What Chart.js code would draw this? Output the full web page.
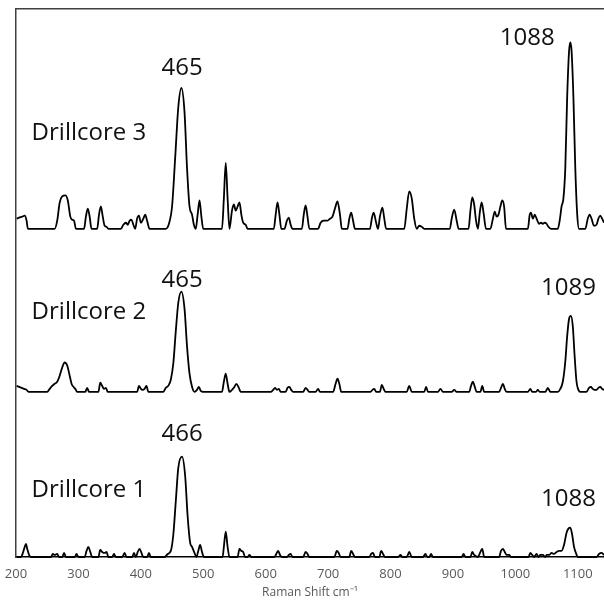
<!DOCTYPE html>
<html>
<head>
<meta charset="utf-8">
<script src="https://cdn.jsdelivr.net/npm/chart.js@4.4.1/dist/chart.umd.min.js"></script>
<style>
  html, body { margin: 0; padding: 0; background: #fff; overflow: hidden; }
</style>
</head>
<body>
<canvas id="chart" width="604" height="600"></canvas>
<script>
// Raman shift (cm-1) vs intensity above each trace's own baseline
const core3Points = [
  [201, 10], [205, 11], [210, 12], [214, 13], [217, 8], [219, 0], [262, 0], [266, 8], [270, 26], [274, 32],
  [279, 33], [283, 28], [287, 12], [290, 9], [293, 8], [296, 0], [309, 0], [312, 12], [315, 20], [318, 12],
  [321, 0], [330, 0], [333, 14], [336, 22], [339, 12], [342, 3], [345, 2], [348, 0], [368, 0], [372, 4],
  [376, 6], [379, 4], [382, 8], [385, 9], [388, 4], [391, 0], [394, 10], [397, 13], [400, 6], [404, 10],
  [407, 14], [410, 8], [414, 0], [440, 0], [445, 5], [450, 22], [455, 70], [460, 120], [465, 139], [470, 115],
  [474, 60], [478, 22], [482, 14], [485, 4], [488, 0], [491, 14], [494, 28], [497, 12], [500, 0], [530, 0],
  [533, 30], [536, 65], [539, 30], [542, 0], [546, 18], [549, 24], [552, 18], [555, 22], [558, 26], [561, 14],
  [564, 6], [568, 4], [571, 0], [613, 0], [616, 14], [619, 26], [622, 14], [625, 0], [630, 0], [634, 8],
  [637, 11], [640, 4], [643, 0], [658, 0], [661, 14], [664, 23], [667, 12], [670, 0], [684, 0], [688, 6],
  [693, 8], [699, 8], [703, 10], [707, 12], [711, 20], [715, 27], [719, 14], [722, 0], [731, 0], [734, 10],
  [737, 16], [740, 8], [743, 0], [767, 0], [770, 10], [773, 16], [777, 6], [780, 0], [783, 12], [787, 21],
  [790, 10], [793, 0], [822, 0], [826, 20], [830, 37], [834, 30], [838, 10], [842, 0], [846, 3], [850, 2],
  [854, 0], [895, 0], [898, 10], [902, 19], [906, 8], [909, 0], [925, 0], [928, 18], [931, 31], [934, 24],
  [937, 8], [940, 0], [943, 16], [946, 26], [949, 16], [953, 0], [960, 0], [964, 10], [967, 17], [970, 12],
  [973, 14], [976, 22], [979, 28], [982, 22], [985, 0], [1020, 0], [1023, 14], [1025, 16], [1028, 10], [1031, 14],
  [1034, 10], [1038, 5], [1041, 6], [1044, 5], [1047, 6], [1050, 5], [1053, 2], [1057, 0], [1068, 0], [1071, 8],
  [1074, 22], [1077, 30], [1080, 60], [1083, 130], [1086, 175], [1088, 184], [1090, 176], [1093, 130], [1096, 60], [1099, 15],
  [1102, 0], [1112, 0], [1116, 10], [1119, 14], [1122, 10], [1126, 3], [1130, 4], [1133, 10], [1136, 13], [1139, 10],
  [1142, 6]
];

const core2Points = [
  [201, 6], [205, 5], [209, 4], [213, 3], [217, 2], [220, 0], [250, 0], [254, 3], [258, 6], [262, 8],
  [266, 10], [270, 16], [274, 24], [278, 29], [282, 26], [286, 16], [289, 8], [292, 5], [295, 3], [298, 0],
  [311, 0], [314, 4], [317, 0], [332, 0], [335, 9], [338, 6], [341, 3], [344, 4], [347, 0], [394, 0],
  [397, 6], [400, 3], [403, 2], [406, 3], [409, 6], [412, 0], [436, 0], [440, 4], [444, 6], [448, 12],
  [452, 28], [456, 60], [460, 88], [465, 99], [470, 82], [474, 45], [478, 18], [482, 5], [486, 0], [490, 2],
  [493, 5], [496, 1], [500, 0], [530, 0], [533, 10], [536, 18], [539, 8], [542, 0], [546, 2], [549, 4],
  [553, 8], [557, 4], [560, 0], [608, 0], [612, 2], [615, 4], [618, 2], [621, 3], [624, 0], [632, 0],
  [635, 4], [638, 5], [641, 2], [644, 0], [660, 0], [664, 4], [667, 2], [670, 0], [680, 0], [684, 3],
  [687, 0], [708, 0], [712, 8], [715, 13], [718, 8], [721, 0], [768, 0], [771, 2], [774, 3], [777, 0],
  [783, 0], [786, 7], [789, 3], [792, 0], [826, 0], [830, 6], [834, 0], [854, 0], [857, 5], [860, 0],
  [876, 0], [880, 3], [884, 0], [898, 0], [902, 2], [906, 0], [926, 0], [929, 6], [932, 10], [935, 5],
  [938, 0], [944, 0], [947, 6], [950, 0], [974, 0], [977, 4], [980, 8], [983, 3], [986, 0], [1020, 0],
  [1024, 3], [1027, 0], [1033, 0], [1036, 2], [1039, 0], [1048, 0], [1052, 4], [1056, 0], [1068, 0], [1072, 3],
  [1076, 10], [1080, 30], [1083, 55], [1086, 72], [1089, 75], [1092, 65], [1095, 35], [1098, 10], [1101, 2], [1104, 0],
  [1114, 0], [1118, 4], [1121, 5], [1124, 3], [1127, 2], [1130, 2], [1133, 4], [1136, 5], [1139, 3], [1142, 2]
];

const core1Points = [
  [201, 0], [208, 0], [211, 4], [214, 10], [216, 13], [218, 8], [221, 2], [224, 0], [256, 0], [259, 3],
  [262, 2], [266, 3], [269, 0], [274, 0], [277, 4], [280, 0], [294, 0], [297, 3], [300, 0], [310, 0],
  [313, 6], [316, 10], [319, 5], [322, 0], [332, 0], [335, 7], [338, 5], [342, 4], [345, 5], [348, 0],
  [354, 0], [357, 3], [360, 0], [370, 0], [374, 4], [377, 0], [386, 0], [389, 4], [392, 0], [395, 5],
  [398, 8], [401, 4], [404, 0], [410, 0], [413, 4], [416, 0], [438, 0], [443, 3], [448, 6], [452, 22],
  [456, 55], [460, 88], [466, 99], [471, 80], [475, 40], [479, 14], [482, 10], [486, 4], [489, 0], [492, 6],
  [495, 12], [498, 5], [501, 0], [531, 0], [533, 10], [536, 25], [539, 10], [542, 0], [555, 0], [558, 8],
  [561, 6], [564, 5], [567, 0], [571, 0], [574, 2], [577, 0], [614, 0], [617, 3], [620, 6], [623, 2],
  [626, 0], [634, 0], [637, 2], [640, 3], [643, 0], [660, 0], [664, 5], [667, 3], [670, 0], [710, 0],
  [714, 6], [717, 4], [720, 0], [734, 0], [737, 6], [740, 3], [743, 0], [766, 0], [769, 3], [772, 4],
  [775, 0], [782, 0], [785, 6], [788, 3], [791, 0], [812, 0], [816, 2], [819, 0], [826, 0], [830, 5],
  [834, 0], [852, 0], [856, 3], [859, 0], [862, 0], [865, 3], [868, 0], [914, 0], [917, 3], [920, 0],
  [928, 0], [931, 5], [934, 2], [940, 0], [944, 5], [947, 8], [950, 0], [974, 0], [977, 6], [980, 8],
  [983, 5], [986, 2], [990, 2], [993, 0], [1021, 0], [1024, 4], [1027, 2], [1030, 0], [1034, 3], [1037, 0],
  [1040, 2], [1044, 2], [1048, 0], [1050, 2], [1054, 2], [1058, 4], [1062, 3], [1066, 5], [1070, 6], [1074, 6],
  [1078, 12], [1082, 24], [1085, 28], [1088, 29], [1091, 22], [1094, 10], [1097, 4], [1100, 0], [1130, 0], [1134, 3],
  [1138, 4], [1142, 2]
];

const seriesNames = ["Drillcore 1", "Drillcore 2", "Drillcore 3"];
const stackOffsets = [0, 163, 324];   // vertical offset of each trace
const xTicks = [200, 300, 400, 500, 600, 700, 800, 900, 1000, 1100];

// text labels: [text, shift, height, align]
const labels = [
  ["Drillcore 3", 225, 418, "left"],
  ["465", 466, 483, "center"],
  ["1088", 1019, 512, "center"],
  ["Drillcore 2", 225, 242, "left"],
  ["465", 466, 273, "center"],
  ["1089", 1085, 265, "center"],
  ["Drillcore 1", 225, 66, "left"],
  ["466", 466, 121, "center"],
  ["1088", 1085, 57, "center"]
];

const allPoints = [core1Points, core2Points, core3Points];

const labelPlugin = {
  id: "peakLabels",
  afterDatasetsDraw(chart) {
    const ctx = chart.ctx;
    const xs = chart.scales.x, ys = chart.scales.y;
    ctx.save();
    ctx.fillStyle = "#111";
    ctx.font = "24px 'Open Sans'";
    ctx.textBaseline = "middle";
    labels.forEach(([t, sx, sy, al]) => {
      ctx.textAlign = al;
      ctx.fillText(t, xs.getPixelForValue(sx), ys.getPixelForValue(sy));
    });
    ctx.restore();
  }
};

new Chart(document.getElementById("chart"), {
  type: "line",
  data: {
    datasets: allPoints.map((pts, i) => ({
      label: seriesNames[i],
      data: pts.map(p => ({ x: p[0], y: p[1] + stackOffsets[i] })),
      borderColor: "#000",
      borderWidth: 1.8,
      pointRadius: 0,
      cubicInterpolationMode: "monotone",
      fill: false,
      clip: 4
    }))
  },
  options: {
    responsive: false,
    animation: false,
    layout: { padding: { top: 1, left: 8, right: 0, bottom: 0 } },
    plugins: { legend: { display: false }, tooltip: { enabled: false } },
    scales: {
      x: {
        type: "linear",
        min: 200,
        max: 1142,
        afterBuildTicks: axis => { axis.ticks = xTicks.map(v => ({ value: v })); },
        ticks: {
          callback: v => String(v),
          color: "#595959",
          font: { family: "'Open Sans'", size: 13 },
          padding: 1,
          maxRotation: 0,
          autoSkip: false
        },
        grid: { display: false },
        border: { display: true, color: "#000", width: 1.5 },
        title: {
          display: true,
          text: "Raman Shift cm\u207B\u00B9",
          color: "#595959",
          font: { family: "'Open Sans'", size: 12 },
          padding: { top: 3, bottom: 0 }
        }
      },
      xTop: {
        type: "linear",
        position: "top",
        min: 200,
        max: 1142,
        ticks: { display: false },
        grid: { display: false },
        border: { display: true, color: "#404040", width: 1.5 }
      },
      y: {
        min: 0,
        max: 541,
        ticks: { display: false },
        grid: { display: false },
        border: { display: true, color: "#404040", width: 1.5 }
      }
    }
  },
  plugins: [labelPlugin]
});
</script>
</body>
</html>
